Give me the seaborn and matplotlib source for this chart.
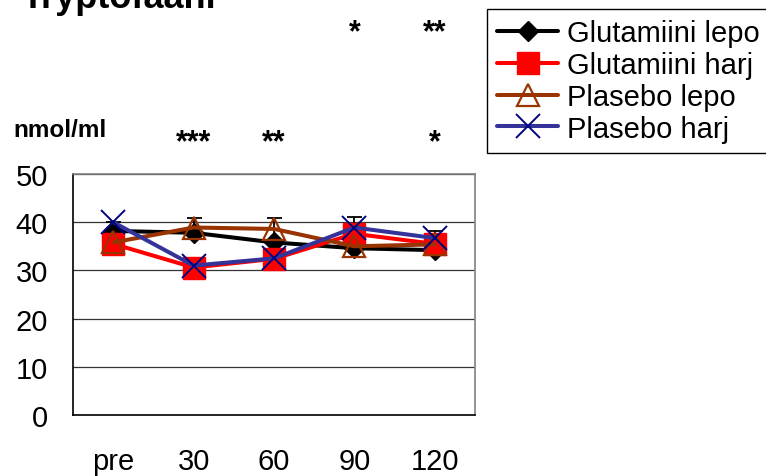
import numpy as np
import pandas as pd
import matplotlib
matplotlib.use('Agg')
import matplotlib.pyplot as plt
import matplotlib.transforms as mtransforms
import seaborn as sns

# ---- data ----
times = ['pre', '30', '60', '90', '120']
series_names = ['Glutamiini lepo', 'Glutamiini harj', 'Plasebo lepo', 'Plasebo harj']
glut_lepo = [38.2, 37.8, 35.8, 34.6, 34.2]
glut_harj = [35.5, 30.6, 32.4, 37.6, 35.5]
plas_lepo = [35.8, 38.9, 38.6, 35.0, 35.4]
plas_harj = [40.0, 31.0, 32.5, 38.9, 36.7]
glut_lepo_err_up = [1.8, 3.1, 5.1, 6.4, 4.0]
top_stars = ['', '', '', '*', '**']
bottom_stars = ['', '***', '**', '', '*']
y_ticks = [0, 10, 20, 30, 40, 50]

sns.set_theme(style='white')
plt.rcParams['font.family'] = ['Liberation Sans', 'DejaVu Sans']
plt.rcParams['text.color'] = 'black'
plt.rcParams['xtick.color'] = 'black'
plt.rcParams['ytick.color'] = 'black'
plt.rcParams['xtick.labelcolor'] = 'black'
plt.rcParams['ytick.labelcolor'] = 'black'

W, H = 766, 477
fig = plt.figure(figsize=(W / 100, H / 100), dpi=100)
ax = fig.add_axes([73 / W, 61 / H, 402 / W, 241 / H])

styles = [
    dict(color='black', marker='D', ms=10, mfc='black', mec='black', mew=1, lw=2.9),
    dict(color='#FF0000', marker='s', ms=16, mfc='#FF0000', mec='#FF0000', mew=1, lw=2.9),
    dict(color='#993300', marker='^', ms=15.5, mfc='none', mec='#993300', mew=1.6, lw=2.9),
    dict(color='#333399', marker='x', ms=17, mfc='none', mec='#000080', mew=1.4, lw=2.9),
]
values = [glut_lepo, glut_harj, plas_lepo, plas_harj]

for i, (name, vals, st) in enumerate(zip(series_names, values, styles)):
    df = pd.DataFrame({'time': times, 'value': vals})
    sns.lineplot(data=df, x='time', y='value', ax=ax, sort=False, label=name,
                 zorder=3 + i, **st)
    if i == 0:
        ax.errorbar(times, glut_lepo, yerr=[np.zeros(len(times)), glut_lepo_err_up],
                    fmt='none', ecolor='black', elinewidth=1.3, capsize=5.4,
                    capthick=1.3, zorder=2.5)

ax.set_xlim(-0.5, len(times) - 0.5)
ax.set_ylim(0, 50)
ax.set_yticks(y_ticks)
ax.set_yticklabels([str(t) for t in y_ticks], fontsize=21)
ax.set_xticks(np.arange(-0.5, len(times), 1.0))
ax.set_xticklabels([''] * (len(times) + 1))
ax.set_xticks(np.arange(len(times)), minor=True)
ax.set_xticklabels(times, minor=True, fontsize=21)
ax.tick_params(axis='x', which='minor', length=0, pad=23)
ax.tick_params(axis='x', which='major', length=6, width=1, direction='out', color='black')
ax.tick_params(axis='y', length=7, width=1, direction='out', color='black', pad=11)
ax.set_xlabel('')
ax.set_ylabel('')

ax.grid(axis='y', color='#333333', lw=0.9)
ax.grid(axis='x', visible=False)
for s in ['left', 'bottom']:
    ax.spines[s].set_color('black')
    ax.spines[s].set_linewidth(1.2)
for s in ['top', 'right']:
    ax.spines[s].set_color('#808080')
    ax.spines[s].set_linewidth(1.2)

leg = ax.legend(loc='upper left', bbox_to_anchor=(487 / W, 1 - 10 / H),
                bbox_transform=fig.transFigure, borderaxespad=0, fontsize=21,
                frameon=True, fancybox=False, edgecolor='black', framealpha=1,
                handlelength=2.1, handletextpad=0.3, labelspacing=0.13,
                borderpad=0.35)
leg.get_frame().set_linewidth(1.0)

fig.text(22 / W, 1 - 8 / H, 'Tryptofaani', fontsize=26, fontweight='bold',
         ha='left', va='baseline')
fig.text(13 / W, 1 - 137 / H, 'nmol/ml', fontsize=17.5, fontweight='bold',
         ha='left', va='baseline')

trans = mtransforms.blended_transform_factory(ax.transData, fig.transFigure)
for i, (t, b) in enumerate(zip(top_stars, bottom_stars)):
    if t:
        ax.text(i, 1 - 41 / H, t, transform=trans, ha='center', va='baseline',
                fontsize=22, fontweight='bold')
    if b:
        ax.text(i, 1 - 151 / H, b, transform=trans, ha='center', va='baseline',
                fontsize=22, fontweight='bold')

fig.savefig('out.png', dpi=100)
